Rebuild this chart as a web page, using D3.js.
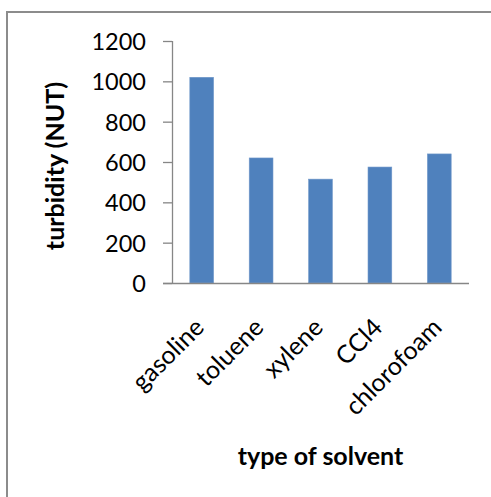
<!DOCTYPE html>
<html>
<head>
<meta charset="utf-8">
<script src="https://cdn.jsdelivr.net/npm/d3@7"></script>
<style>
  html, body { margin: 0; padding: 0; background: #fff; }
  svg { display: block; }
  text { font-family: Lato, "Open Sans", sans-serif; fill: #000; }
</style>
</head>
<body>
<script>
const categories = ["gasoline", "toluene", "xylene", "CCl4", "chlorofoam"];
const values = [1020, 620, 515, 575, 640];
const yTicks = [0, 200, 400, 600, 800, 1000, 1200];
const yTitle = "turbidity (NUT)";
const xTitle = "type of solvent";

const W = 491, H = 497;
const svg = d3.select("body").append("svg").attr("width", W).attr("height", H);
svg.append("rect").attr("width", W).attr("height", H).attr("fill", "#fff");

// chart frame (top and left edges visible)
svg.append("path")
  .attr("d", `M7,${H} L7,12 L${W},12`)
  .attr("fill", "none").attr("stroke", "#8c8c8c").attr("stroke-width", 2);

const plot = { left: 172, right: 469, top: 41, bottom: 283 };

const x = d3.scaleBand().domain(categories)
  .range([plot.left, plot.right]).paddingInner(0.6).paddingOuter(0.3);
const y = d3.scaleLinear().domain([0, 1200]).range([plot.bottom, plot.top]);

// bars
svg.append("g").selectAll("rect").data(values).join("rect")
  .attr("x", (d, i) => x(categories[i]))
  .attr("y", d => y(d))
  .attr("width", x.bandwidth())
  .attr("height", d => y(0) - y(d))
  .attr("fill", "#4F81BD")
  .attr("stroke", "#6f97c9").attr("stroke-width", 0.6);

// x axis
const xAxis = svg.append("g").attr("transform", `translate(0,${plot.bottom})`)
  .call(d3.axisBottom(x).tickSize(0).tickFormat(""));
xAxis.select(".domain").attr("stroke", "#868686").attr("stroke-width", 1.3)
  .attr("d", `M${plot.left - 9},0.5H${plot.right}`);

// y axis
const yAxis = svg.append("g").attr("transform", `translate(${plot.left},0)`)
  .call(d3.axisLeft(y).tickValues(yTicks).tickSize(9).tickPadding(17).tickFormat(d3.format("d")));
yAxis.select(".domain").attr("stroke", "#868686").attr("stroke-width", 1.3)
  .attr("d", `M0.5,${plot.top}V${plot.bottom}`);
yAxis.selectAll(".tick line").attr("stroke", "#868686").attr("stroke-width", 1.3);
yAxis.selectAll(".tick text")
  .style("font-family", "Lato, sans-serif").style("font-size", "23.5px")
  .attr("fill", "#000").attr("dy", "0.36em");

// x category labels, rotated
svg.append("g").selectAll("text").data(categories).join("text")
  .attr("transform", d => `translate(${x(d) + x.bandwidth() / 2 + 4},329) rotate(-45)`)
  .attr("text-anchor", "end")
  .style("font-size", "25px")
  .text(d => d);

// axis titles
svg.append("text")
  .attr("transform", `translate(64,166) rotate(-90)`)
  .attr("text-anchor", "middle")
  .style("font-size", "25px").style("font-weight", "bold")
  .text(yTitle);

svg.append("text")
  .attr("x", (plot.left + plot.right) / 2).attr("y", 465)
  .attr("text-anchor", "middle")
  .style("font-size", "25px").style("font-weight", "bold")
  .text(xTitle);
</script>
</body>
</html>
